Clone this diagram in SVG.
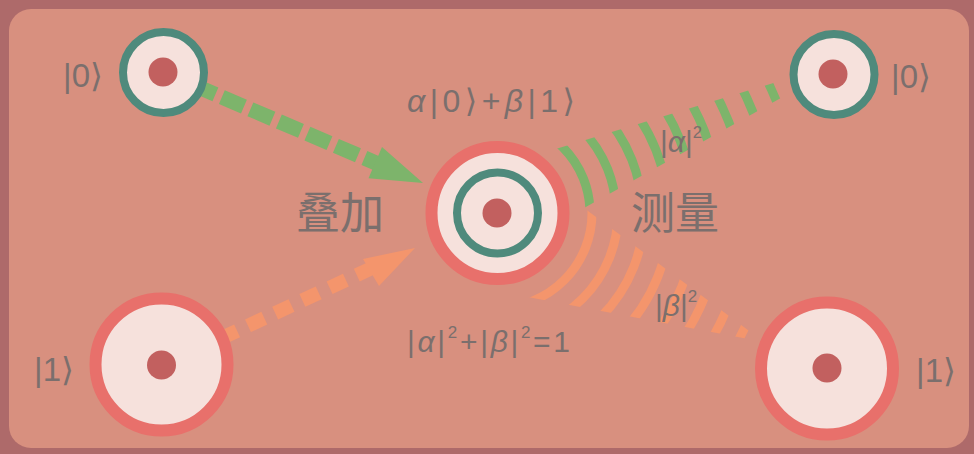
<svg xmlns="http://www.w3.org/2000/svg" width="974" height="454" viewBox="0 0 974 454">
<style>
.t{font-family:"Liberation Sans","DejaVu Sans",sans-serif;fill:#7b6f6d}
.cjk{font-family:"Noto Sans CJK SC","Noto Sans CJK JP",sans-serif;fill:#7b6f6d;font-size:44px}
.fill{fill:#f6e1dc}
.teal{fill:none;stroke:#4f8a7c;stroke-width:8}
.red{fill:#f6e1dc;stroke:#e8706b;stroke-width:12}
.dot{fill:#c2605f}
.garc{fill:none;stroke:#7db46b;stroke-width:9}
.oarc{fill:none;stroke:#f4956c;stroke-width:9}
</style>
<defs>
<clipPath id="gclip"><polygon points="849,60 480,172 584,208"/></clipPath>
<clipPath id="oclip"><polygon points="764,342 584,208 480,288"/></clipPath>
</defs>
<rect x="0" y="0" width="974" height="454" fill="#ae6a6a"/>
<rect x="9" y="9" width="960" height="439" rx="22" fill="#d8907f"/>

<g id="connectors">
  <line x1="163" y1="72" x2="378" y2="163.8" stroke="#7db46b" stroke-width="15" stroke-dasharray="24 7" stroke-dashoffset="-2"/>
  <polygon points="423,183 382,147 368.5,178.2" fill="#7db46b"/>
  <line x1="161.5" y1="366" x2="372" y2="268" stroke="#f4956c" stroke-width="14" stroke-dasharray="18 12" stroke-dashoffset="-5.4"/>
  <polygon points="415,248 363,259 379,286" fill="#f4956c"/>
  <g clip-path="url(#gclip)">
    <circle class="garc" cx="497" cy="213" r="93"/>
    <circle class="garc" cx="497" cy="213" r="119"/>
    <circle class="garc" cx="497" cy="213" r="145"/>
    <circle class="garc" cx="497" cy="213" r="171"/>
    <circle class="garc" cx="497" cy="213" r="197"/>
    <circle class="garc" cx="497" cy="213" r="223"/>
    <circle class="garc" cx="497" cy="213" r="249"/>
    <circle class="garc" cx="497" cy="213" r="275"/>
    <circle class="garc" cx="497" cy="213" r="301"/>
  </g>
  <g clip-path="url(#oclip)">
    <circle class="oarc" cx="497" cy="213" r="95"/>
    <circle class="oarc" cx="497" cy="213" r="121"/>
    <circle class="oarc" cx="497" cy="213" r="147"/>
    <circle class="oarc" cx="497" cy="213" r="173"/>
    <circle class="oarc" cx="497" cy="213" r="199"/>
    <circle class="oarc" cx="497" cy="213" r="224"/>
    <circle class="oarc" cx="497" cy="213" r="249"/>
    <circle class="oarc" cx="497" cy="213" r="273"/>
  </g>
</g>

<g id="node-in0">
  <circle class="fill teal" cx="163.5" cy="72.5" r="40.5" style="fill:#f6e1dc"/>
  <circle class="dot" cx="163" cy="72" r="14.5"/>
  <text class="t" x="83" y="87" font-size="33" text-anchor="middle">|0⟩</text>
</g>
<g id="node-in1">
  <circle class="red" cx="161.5" cy="364.5" r="66"/>
  <circle class="dot" cx="161.5" cy="365" r="14.5"/>
  <text class="t" x="54" y="381" font-size="33" text-anchor="middle">|1⟩</text>
</g>
<g id="node-super">
  <circle class="red" cx="497.5" cy="213" r="66"/>
  <circle class="teal" cx="497.5" cy="213" r="40.5"/>
  <circle class="dot" cx="497" cy="213" r="14.5"/>
  <text class="t" x="491" y="112" font-size="32" text-anchor="middle" textLength="168" lengthAdjust="spacing"><tspan font-style="italic">α</tspan>|0⟩+<tspan font-style="italic">β</tspan>|1⟩</text>
  <text class="t" x="488.5" y="352" font-size="30" text-anchor="middle" textLength="163" lengthAdjust="spacing">|<tspan font-style="italic">α</tspan>|<tspan font-size="17" dy="-14">2</tspan><tspan dy="14">+|</tspan><tspan font-style="italic">β</tspan>|<tspan font-size="17" dy="-14">2</tspan><tspan dy="14">=1</tspan></text>
</g>
<g id="node-out0">
  <circle class="teal" cx="834" cy="74.5" r="40.5" style="fill:#f6e1dc"/>
  <circle class="dot" cx="833" cy="74" r="14.5"/>
  <text class="t" x="911" y="88" font-size="33" text-anchor="middle">|0⟩</text>
</g>
<g id="node-out1">
  <circle class="red" cx="827" cy="368.5" r="66"/>
  <circle class="dot" cx="827" cy="368" r="14.5"/>
  <text class="t" x="936" y="382" font-size="33" text-anchor="middle">|1⟩</text>
</g>

<g id="labels">
  <text class="cjk" x="296" y="229">叠加</text>
  <text class="cjk" x="631" y="229">测量</text>
  <text class="t" x="660" y="152" font-size="30">|<tspan font-style="italic">α</tspan>|<tspan font-size="17" dy="-14">2</tspan></text>
  <text class="t" x="655" y="316" font-size="30">|<tspan font-style="italic">β</tspan>|<tspan font-size="17" dy="-14">2</tspan></text>
</g>
</svg>
